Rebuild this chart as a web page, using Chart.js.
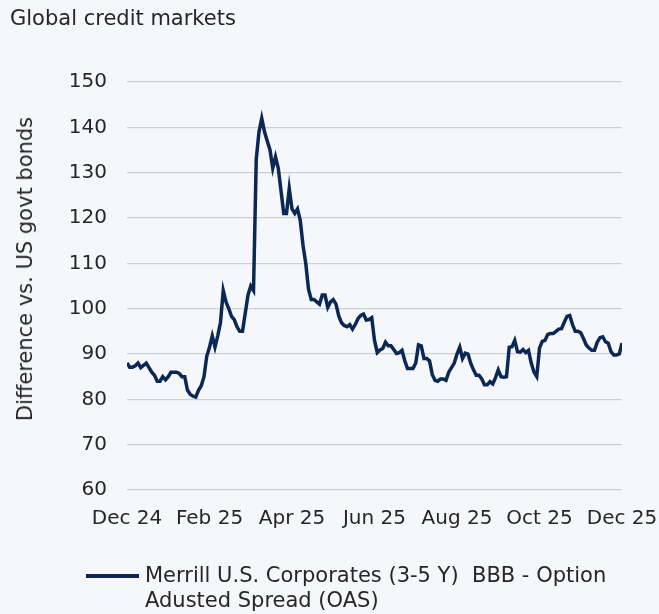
<!DOCTYPE html>
<html>
<head>
<meta charset="utf-8">
<script src="https://cdn.jsdelivr.net/npm/chart.js@4.4.1/dist/chart.umd.min.js"></script>
<style>
  html, body { margin: 0; padding: 0; background: #f5f7fa; }
  #wrap { position: relative; width: 659px; height: 614px; font-family: "DejaVu Sans", sans-serif; color: #262626; }
  #title { position: absolute; left: 10px; top: 6px; font-size: 21px; }
  #yTitle { position: absolute; left: 25px; top: 269px; font-size: 21px; white-space: nowrap;
            transform: translate(-50%, -50%) rotate(-90deg); }
  #chartBox { position: absolute; left: 0; top: 0; width: 659px; height: 614px; }
  #legend { position: absolute; left: 86px; top: 563px; font-size: 21px; line-height: 25px; }
  #legend .swatch { position: absolute; left: 0; top: 11px; width: 53px; height: 3.5px; background: #0b2855; }
  #legend .text { position: absolute; left: 59px; top: 0; white-space: nowrap; }
</style>
</head>
<body>
<div id="wrap">
  <div id="chartBox"><canvas id="creditChart" width="659" height="614"></canvas></div>
  <div id="title">Global credit markets</div>
  <div id="yTitle">Difference vs. US govt bonds</div>
  <div id="legend">
    <div class="swatch"></div>
    <div class="text">Merrill U.S. Corporates (3-5 Y)&nbsp; BBB - Option<br>Adusted Spread (OAS)</div>
  </div>
</div>
<script>
// x tick labels, every two months
var tickLabels = ["Dec 24", "Feb 25", "Apr 25", "Jun 25", "Aug 25", "Oct 25", "Dec 25"];
var pointsPerTick = 30;

// BBB 3-5Y option adjusted spread, bp
var spread = [
  88, 87.1, 87.1, 87.4, 88, 87, 87.5, 88, 87, 86,
  85.3, 84, 84, 85, 84.3, 85, 86, 86, 86, 85.7,
  85, 85, 82, 81.1, 80.7, 80.5, 82, 83, 85, 89.5,
  91.5, 94, 91.5, 94, 97, 104, 101.5, 100, 98.3, 97.6,
  96, 95, 95, 99, 103, 105, 104, 133, 139, 142,
  139, 137, 135, 131, 133.5, 131, 126, 121, 121, 126.5,
  122, 121, 122, 119.5, 114, 110, 104.3, 102, 102, 101.5,
  101, 103, 103, 100.3, 101.5, 102, 101, 98.4, 96.9, 96.3,
  96, 96.5, 95.5, 96.5, 97.8, 98.5, 98.8, 97.5, 97.6, 98,
  93, 90.3, 90.9, 91.2, 92.6, 91.8, 91.8, 91, 90.1, 90.3,
  90.8, 88.5, 86.8, 86.8, 86.8, 88, 92, 91.8, 89, 89,
  88.5, 85.5, 84.2, 84, 84.5, 84.5, 84.2, 86, 87, 88,
  90, 91.5, 89, 90.2, 90, 87.9, 86.5, 85.3, 85.3, 84.5,
  83.2, 83.2, 83.9, 83.4, 84.8, 86.5, 85, 84.9, 85, 91.5,
  91.6, 93, 90.5, 90.4, 91, 90.3, 90.8, 88, 86, 85,
  91.3, 92.8, 93, 94.3, 94.5, 94.5, 95, 95.5, 95.6, 97,
  98.3, 98.5, 96.5, 95, 95, 94.7, 93.4, 92, 91.3, 90.8,
  90.8, 92.6, 93.6, 93.8, 92.7, 92.4, 90.5, 89.8, 89.8, 90,
  92.4
];

var yMin = 60;
var yMax = 150;
var yStep = 10;

var lineColor = "#0b2855";
var gridColor = "#cfd0d2";
var textColor = "#262626";
var fontFamily = "'DejaVu Sans', sans-serif";

var points = [];
for (var i = 0; i < spread.length; i++) {
  points.push({ x: i, y: spread[i] });
}

var ctx = document.getElementById("creditChart");
window.chart = new Chart(ctx, {
  type: "line",
  data: {
    datasets: [
      {
        label: "Merrill U.S. Corporates (3-5 Y)  BBB - Option Adusted Spread (OAS)",
        data: points,
        borderColor: lineColor,
        borderWidth: 3.5,
        pointRadius: 0,
        tension: 0,
        fill: false,
      },
    ],
  },
  options: {
    responsive: false,
    animation: false,
    layout: {
      padding: { top: 82, right: 37, bottom: 84, left: 0 },
    },
    plugins: {
      legend: { display: false },
      tooltip: { enabled: false },
    },
    scales: {
      x: {
        type: "linear",
        min: 0,
        max: (tickLabels.length - 1) * pointsPerTick,
        grid: { display: false, drawTicks: false },
        border: { display: false },
        ticks: {
          stepSize: pointsPerTick,
          autoSkip: false,
          maxRotation: 0,
          padding: 17,
          color: textColor,
          font: { family: fontFamily, size: 20 },
          callback: function (value) {
            return tickLabels[Math.round(value / pointsPerTick)];
          },
        },
        afterFit: function (scale) {
          scale.height = 40;
          scale.paddingLeft = 0;
          scale.paddingRight = 0;
        },
      },
      y: {
        min: yMin,
        max: yMax,
        grid: { color: gridColor, lineWidth: 1.2, drawTicks: false },
        border: { display: false },
        ticks: {
          stepSize: yStep,
          padding: 20,
          color: textColor,
          font: { family: fontFamily, size: 20 },
        },
        afterFit: function (scale) {
          scale.width = 127;
        },
      },
    },
  },
});
</script>
</body>
</html>
